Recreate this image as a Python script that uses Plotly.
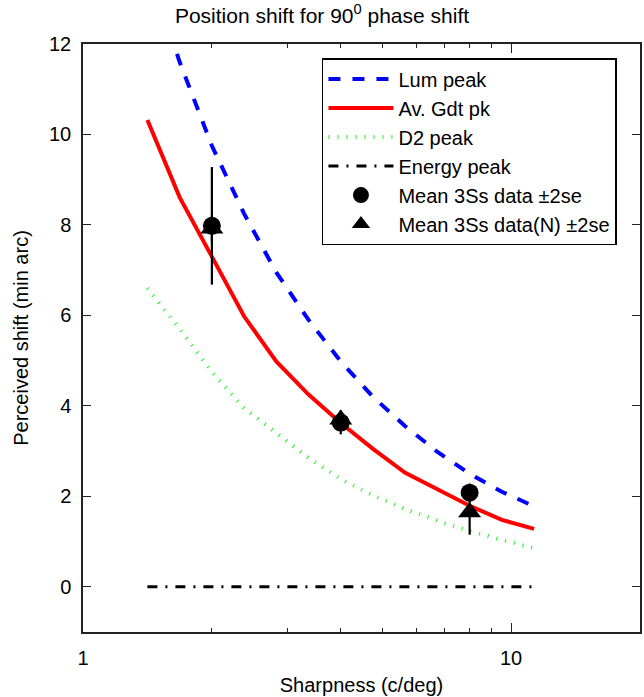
import plotly.graph_objects as go

# Spatial frequency samples (c/deg), quarter-octave steps
freq = [1.414, 1.682, 2.0, 2.378, 2.828, 3.364, 4.0, 4.757, 5.657, 6.727, 8.0, 9.514, 11.314]

# Model predictions (min arc)
lum_peak = [13.8, 11.6, 9.75, 8.25, 6.95, 5.9, 4.98, 4.2, 3.55, 2.98, 2.5, 2.1, 1.78]
gdt_peak = [10.32, 8.61, 7.30, 5.98, 4.98, 4.25, 3.62, 3.05, 2.52, 2.15, 1.79, 1.48, 1.28]
d2_peak = [6.6, 5.7, 4.75, 3.95, 3.4, 2.85, 2.38, 2.02, 1.72, 1.46, 1.23, 1.03, 0.85]
energy_peak = [0, 0, 0, 0, 0, 0, 0, 0, 0, 0, 0, 0, 0]

# Observer means with 2 standard errors
data_freq = [2, 4, 8]
mean_data = [7.98, 3.63, 2.08]
mean_err = [1.3, 0.26, 0.2]
mean_n_data = [7.92, 3.70, 1.65]
mean_n_err = [0.3, 0.2, 0.5]

FONT = "Liberation Sans, Arial, Helvetica, sans-serif"
FS = 20

fig = go.Figure()

fig.add_trace(go.Scatter(
    x=freq, y=lum_peak, mode="lines", name="Lum peak", legendgroup="a",
    line=dict(color="#0000ff", width=4, dash="12px,12px"),
))
fig.add_trace(go.Scatter(
    x=freq, y=gdt_peak, mode="lines", name="Av. Gdt pk", legendgroup="b",
    line=dict(color="#ff0000", width=4),
))
fig.add_trace(go.Scatter(
    x=freq, y=d2_peak, mode="lines", name="D2 peak", legendgroup="c",
    line=dict(color="#22ee22", width=4, dash="1px,8px"),
))
fig.add_trace(go.Scatter(
    x=freq, y=energy_peak, mode="lines", name="Energy peak", legendgroup="d",
    line=dict(color="black", width=3, dash="10px,8px,2px,8px"),
))
fig.add_trace(go.Scatter(
    x=data_freq, y=mean_data, mode="markers", name="Mean 3Ss data \u00b12se",
    legendgroup="e",
    marker=dict(symbol="circle", size=18, color="black"),
    error_y=dict(type="data", array=mean_err, color="black", thickness=2.2, width=0),
))
fig.add_trace(go.Scatter(
    x=data_freq, y=mean_n_data, mode="markers", name="Mean 3Ss data(N) \u00b12se",
    legendgroup="f",
    marker=dict(symbol="triangle-up", size=20, color="black"),
    error_y=dict(type="data", array=mean_n_err, color="black", thickness=2.2, width=0),
))

axis_common = dict(
    showline=True, linecolor="#222", linewidth=1.5, mirror="allticks",
    ticks="inside", tickcolor="#222", tickwidth=1.2, showgrid=False, zeroline=False,
    tickfont=dict(family=FONT, size=FS, color="black"),
)

fig.update_xaxes(
    type="log", range=[0, 1.30103],
    tickvals=[1, 10], ticktext=["1", "10"], ticklen=9,
    minor=dict(tickvals=[2, 3, 4, 5, 6, 7, 8, 9, 20], ticks="inside", ticklen=4,
               tickcolor="#222", tickwidth=1.2, showgrid=False),
    title=dict(text="Sharpness (c/deg)", font=dict(family=FONT, size=FS, color="black"),
               standoff=10),
    ticklabelstandoff=7,
    **axis_common,
)
fig.update_yaxes(
    range=[-1, 12], tickvals=[0, 2, 4, 6, 8, 10, 12], ticklen=8,
    title=dict(text="Perceived shift (min arc)", font=dict(family=FONT, size=FS, color="black"),
               standoff=15),
    ticklabelstandoff=6,
    **axis_common,
)

fig.update_layout(
    width=644, height=697,
    margin=dict(l=83, r=2, t=44, b=65),
    paper_bgcolor="white", plot_bgcolor="white",
    title=dict(text="Position shift for 90<sup>0</sup> phase shift",
               x=0.5, xref="container", xanchor="center",
               y=0.978, yref="container", yanchor="middle",
               font=dict(family=FONT, size=21, color="black")),
    legend=dict(
        x=0.429, y=0.976, xanchor="left", yanchor="top",
        bgcolor="white", bordercolor="black", borderwidth=1.5,
        font=dict(family=FONT, size=FS, color="black"),
        traceorder="grouped", tracegroupgap=0, itemwidth=65,
    ),
    showlegend=True,
)

fig.write_html("out.html")
